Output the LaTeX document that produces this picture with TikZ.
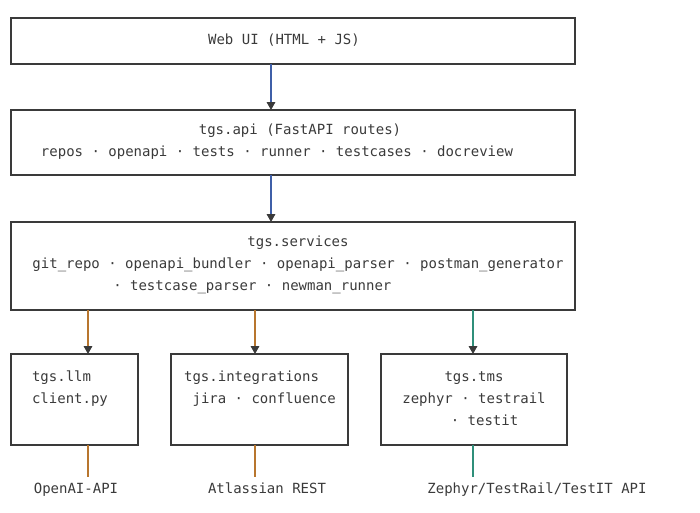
\documentclass[tikz,border=0pt]{standalone}
\usepackage{fontspec}
\setmonofont{DejaVu Sans Mono}
\usetikzlibrary{arrows.meta}
\definecolor{boxgray}{HTML}{3A3A3A}
\definecolor{flowblue}{HTML}{3F5FA8}
\definecolor{flowgold}{HTML}{B8762E}
\definecolor{flowteal}{HTML}{2F8F7A}
\begin{document}
\begin{tikzpicture}[
    x=0.75pt,y=-0.75pt,
    box/.style={draw=boxgray,line width=0.9pt},
    txt/.style={font={\fontsize{10.5}{16.5}\selectfont\ttfamily},text=boxgray,inner sep=0pt,anchor=north,align=center},
    link/.style={line width=0.9pt,-{Triangle[width=6.5pt,length=6pt,color=boxgray,fill=boxgray]}},
    ext/.style={line width=0.9pt},
    ]
    \useasboundingbox (0,0) rectangle (700,512);

    % Layers
    \draw[box] (11,18) rectangle (575,64);
    \node[txt] (web) at (284,34) {Web UI (HTML + JS)};
    \draw[box] (11,110) rectangle (575,175);
    \node[txt] (api) at (300,124) {tgs.api (FastAPI routes)};
    \node[txt] (routes) at (277,146) {repos · openapi · tests · runner · testcases · docreview};
    \draw[box] (11,222) rectangle (575,310);
    \node[txt] (svc) at (298,236) {tgs.services\\git\_repo · openapi\_bundler · openapi\_parser · postman\_generator};
    \node[txt,anchor=north west] (svc3) at (113,280) {· testcase\_parser · newman\_runner};

    % Modules
    \draw[box] (11,354) rectangle (138,445);
    \node[txt,align=left] (llm) at (70,371) {tgs.llm\\client.py};
    \draw[box] (171,354) rectangle (348,445);
    \node[txt,align=left] (intg) at (260,371) {tgs.integrations\\\ jira · confluence};
    \draw[box] (381,354) rectangle (567,445);
    \node[txt] (tms) at (474,371) {tgs.tms\\zephyr · testrail\\\hspace*{1.5em}· testit};

    % Flow between layers
    \coordinate (a1) at (271,64);  \coordinate (a2) at (271,110);
    \coordinate (b1) at (271,175); \coordinate (b2) at (271,222);
    \draw[link,flowblue] (a1) -- (a2);
    \draw[link,flowblue] (b1) -- (b2);
    \coordinate (c1) at (88,310);  \coordinate (c2) at (88,354);
    \coordinate (d1) at (255,310); \coordinate (d2) at (255,354);
    \coordinate (e1) at (473,310); \coordinate (e2) at (473,354);
    \draw[link,flowgold] (c1) -- (c2);
    \draw[link,flowgold] (d1) -- (d2);
    \draw[link,flowteal] (e1) -- (e2);

    % External APIs
    \node[txt] (openai) at (76,483) {OpenAI-API};
    \node[txt] (atl) at (267,483) {Atlassian REST};
    \node[txt] (ext) at (537,483) {Zephyr/TestRail/TestIT API};
    \coordinate (f1) at (88,445);  \coordinate (f2) at (88,477);
    \coordinate (g1) at (255,445); \coordinate (g2) at (255,477);
    \coordinate (h1) at (473,445); \coordinate (h2) at (473,477);
    \draw[ext,flowgold] (f1) -- (f2);
    \draw[ext,flowgold] (g1) -- (g2);
    \draw[ext,flowteal] (h1) -- (h2);
\end{tikzpicture}
\end{document}
